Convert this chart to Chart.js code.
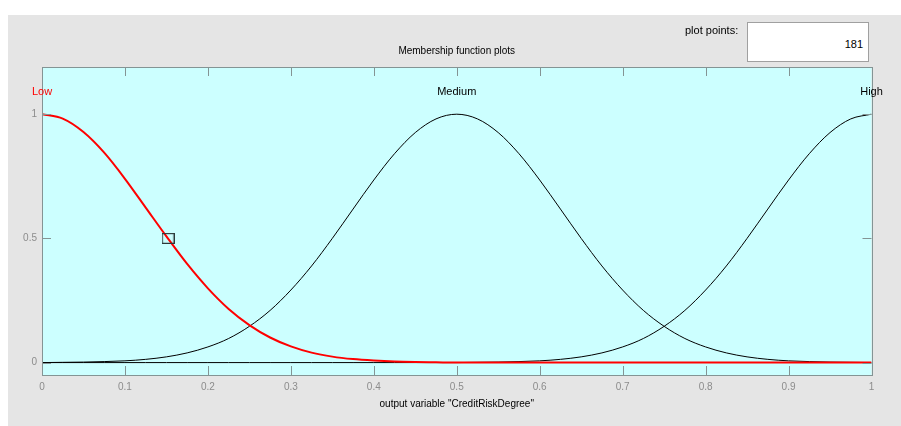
<!DOCTYPE html>
<html>
<head>
<meta charset="utf-8">
<script src="https://cdn.jsdelivr.net/npm/chart.js@4.4.1/dist/chart.umd.min.js"></script>
<style>
  html, body { margin: 0; padding: 0; background: #ffffff; }
  #wrap { position: relative; width: 901px; height: 426px; }
  #c { position: absolute; left: 0; top: 0; }
  .lbl { position: absolute; font-family: "Liberation Sans", Arial, sans-serif; font-size: 11px; color: #000; white-space: nowrap; }
  #ppbox { position: absolute; left: 747px; top: 22px; width: 120px; height: 38px; background: #fff; border: 1px solid #a0a0a0; box-sizing: content-box; }
  #ppval { position: absolute; right: 5px; top: 15px; font-family: "Liberation Sans", Arial, sans-serif; font-size: 11px; color: #000; }
</style>
</head>
<body>
<div id="wrap">
  <canvas id="c" width="901" height="426"></canvas>
  <div class="lbl" style="left:685px; top:24px;">plot points:</div>
  <div id="ppbox"><span id="ppval">181</span></div>
</div>
<script>
// ---- data ----
const xValues = [0,0.025,0.05,0.075,0.1,0.125,0.15,0.175,0.2,0.225,0.25,0.275,0.3,0.325,0.35,0.375,0.4,0.425,0.45,0.475,0.5,0.525,0.55,0.575,0.6,0.625,0.65,0.675,0.7,0.725,0.75,0.775,0.8,0.825,0.85,0.875,0.9,0.925,0.95,0.975,1];
const lowValues = [1.0,0.982,0.928,0.845,0.74,0.624,0.508,0.397,0.299,0.216,0.151,0.101,0.065,0.04,0.024,0.014,0.008,0.004,0.002,0.001,0,0,0,0,0,0,0,0,0,0,0,0,0,0,0,0,0,0,0,0,0];
const mediumValues = [0,0.001,0.002,0.004,0.007,0.013,0.023,0.039,0.063,0.097,0.146,0.21,0.292,0.389,0.5,0.618,0.735,0.841,0.926,0.981,1.0,0.981,0.926,0.841,0.735,0.618,0.5,0.389,0.292,0.21,0.146,0.097,0.063,0.039,0.023,0.013,0.007,0.004,0.002,0.001,0];
const highValues = [0,0,0,0,0,0,0,0,0,0,0,0,0,0,0,0,0,0,0,0,0,0.001,0.002,0.004,0.007,0.013,0.023,0.039,0.063,0.097,0.146,0.21,0.292,0.389,0.5,0.618,0.735,0.841,0.926,0.981,1.0];
const mfNames = ["Low", "Medium", "High"];
const mfCenters = [0, 0.5, 1];
const markerPoint = [{x: 0.152, y: 0.5}];
const xTicks = [0,0.1,0.2,0.3,0.4,0.5,0.6,0.7,0.8,0.9,1];
const xTickLabels = ["0","0.1","0.2","0.3","0.4","0.5","0.6","0.7","0.8","0.9","1"];
const yTicks = [0, 0.5, 1];
const yTickLabels = ["0","0.5","1"];
const titleText = "Membership function plots";
const xAxisTitle = 'output variable "CreditRiskDegree"';

const toXY = (vals) => xValues.map((x, i) => ({x: x, y: vals[i]}));

// square marker image
const mk = document.createElement('canvas');
mk.width = 13; mk.height = 11;
(function(){ const g = mk.getContext('2d'); g.strokeStyle = '#2b3a3a'; g.lineWidth = 1.2; g.strokeRect(0.6, 0.6, 11.8, 9.8); })();

const FONT = '"Liberation Sans", Arial, sans-serif';

const decor = {
  id: 'decor',
  beforeDraw(chart) {
    const ctx = chart.ctx, a = chart.chartArea;
    ctx.save();
    ctx.fillStyle = '#ffffff';
    ctx.fillRect(0, 0, chart.width, chart.height);
    ctx.fillStyle = '#e5e5e5';
    ctx.fillRect(8, 15, chart.width - 8, chart.height - 15);
    ctx.fillStyle = '#ccffff';
    ctx.fillRect(a.left, a.top, a.right - a.left, a.bottom - a.top);
    ctx.restore();
  },
  afterDraw(chart) {
    const ctx = chart.ctx, a = chart.chartArea;
    const xs = chart.scales.x, ys = chart.scales.y;
    ctx.save();
    ctx.strokeStyle = '#849494';
    ctx.lineWidth = 1;
    ctx.strokeRect(Math.round(a.left) + 0.5, Math.round(a.top) + 0.5, Math.round(a.right - a.left), Math.round(a.bottom - a.top));
    ctx.beginPath();
    xTicks.forEach(v => {
      const px = Math.round(xs.getPixelForValue(v)) + 0.5;
      ctx.moveTo(px, a.top); ctx.lineTo(px, a.top + 9);
      ctx.moveTo(px, a.bottom); ctx.lineTo(px, a.bottom - 9);
    });
    yTicks.forEach(v => {
      const py = Math.round(ys.getPixelForValue(v)) + 0.5;
      ctx.moveTo(a.left, py); ctx.lineTo(a.left + 9, py);
      ctx.moveTo(a.right, py); ctx.lineTo(a.right - 9, py);
    });
    ctx.stroke();
    // title
    ctx.fillStyle = '#000';
    ctx.font = '10px ' + FONT;
    ctx.textAlign = 'center';
    ctx.textBaseline = 'middle';
    ctx.fillText(titleText, (a.left + a.right) / 2, 51);
    // membership function names
    ctx.font = '11px ' + FONT;
    mfNames.forEach((n, i) => {
      ctx.fillStyle = i === 0 ? '#ff0000' : '#000000';
      const px = xs.getPixelForValue(mfCenters[i]);
      ctx.fillText(n, px, 92);
    });
    ctx.restore();
  }
};

new Chart(document.getElementById('c'), {
  type: 'line',
  data: {
    datasets: [
      { label: 'Low', data: toXY(lowValues), borderColor: '#ff0000', borderWidth: 2, pointRadius: 0, cubicInterpolationMode: 'monotone', order: 0 },
      { label: 'Medium', data: toXY(mediumValues), borderColor: '#000000', borderWidth: 1, pointRadius: 0, cubicInterpolationMode: 'monotone', order: 1 },
      { label: 'High', data: toXY(highValues), borderColor: '#000000', borderWidth: 1, pointRadius: 0, cubicInterpolationMode: 'monotone', order: 1 },
      { type: 'scatter', label: 'marker', data: markerPoint, pointStyle: mk, pointRadius: 6, showLine: false, order: -1 }
    ]
  },
  options: {
    responsive: false,
    animation: false,
    events: [],
    layout: { padding: { left: 0, right: 29.5, top: 67, bottom: 0 } },
    plugins: { legend: { display: false }, tooltip: { enabled: false }, title: { display: false } },
    scales: {
      x: {
        type: 'linear', min: 0, max: 1,
        grid: { display: false, drawTicks: false },
        border: { display: false },
        afterBuildTicks: (s) => { s.ticks = xTicks.map(v => ({value: v})); },
        afterFit: (s) => { s.height = 51; },
        ticks: { color: '#8c8c8c', font: { family: FONT, size: 10 }, padding: 6, maxRotation: 0, autoSkip: false,
                 callback: (v, i) => xTickLabels[i] },
        title: { display: true, text: xAxisTitle, color: '#000', font: { family: FONT, size: 10 }, padding: { top: 0, bottom: 16 } }
      },
      y: {
        type: 'linear', min: -0.05, max: 1.19,
        grid: { display: false, drawTicks: false },
        border: { display: false },
        afterBuildTicks: (s) => { s.ticks = yTicks.map(v => ({value: v})); },
        afterFit: (s) => { s.width = 42; },
        ticks: { color: '#8c8c8c', font: { family: FONT, size: 10 }, padding: 5,
                 callback: (v, i) => yTickLabels[i] }
      }
    }
  },
  plugins: [decor]
});
</script>
</body>
</html>
